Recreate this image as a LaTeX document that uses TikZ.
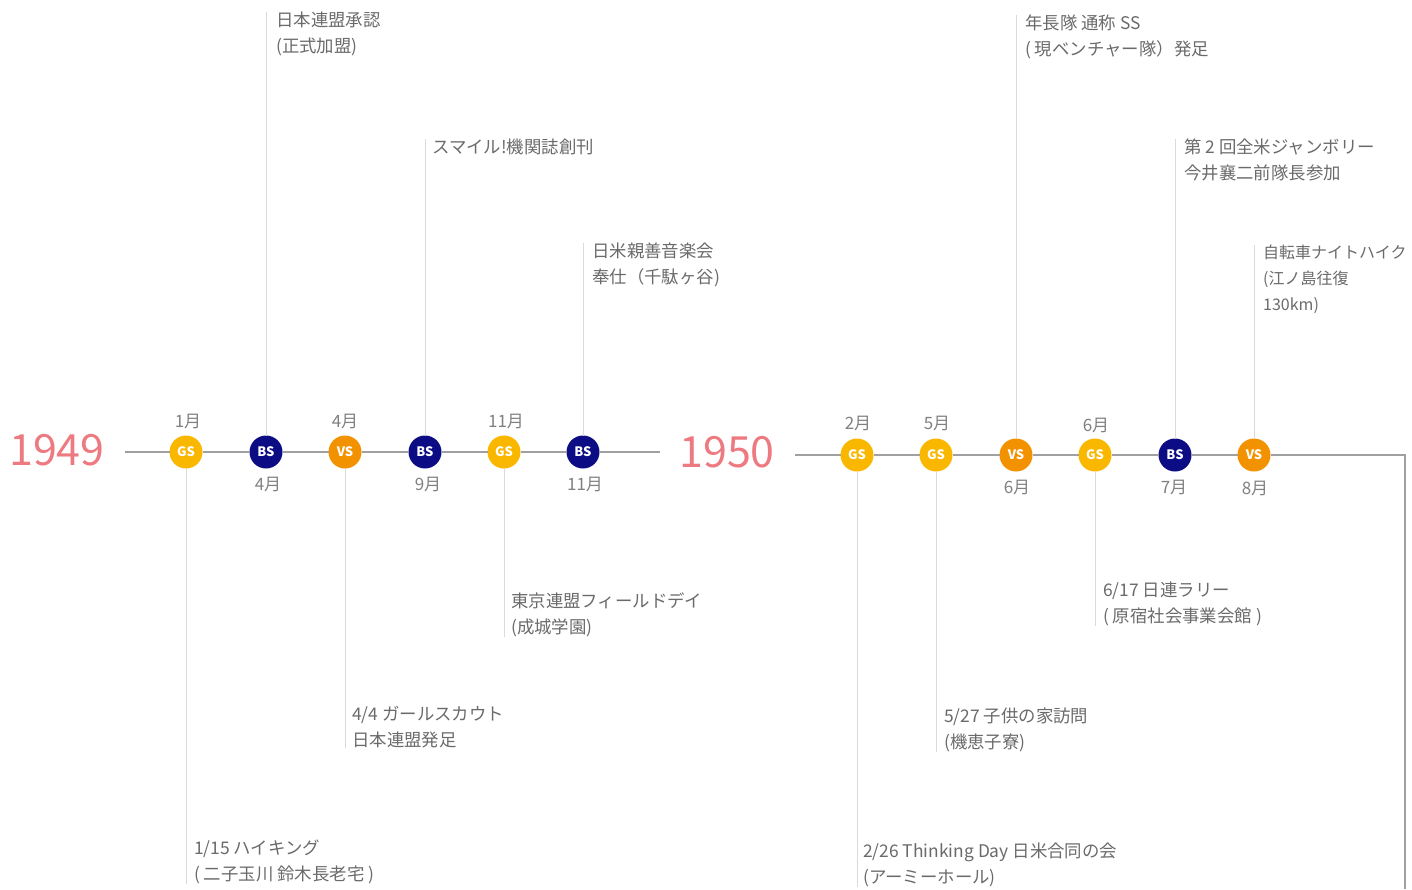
\documentclass[tikz,border=0pt]{standalone}
\usepackage{fontspec}
\setmainfont{Noto Sans CJK JP}
\usepackage{tikz}
\usetikzlibrary{positioning}

\definecolor{gscol}{HTML}{FAB700}
\definecolor{bscol}{HTML}{0C0C84}
\definecolor{vscol}{HTML}{F39200}
\definecolor{yearcol}{HTML}{EC7A80}
\definecolor{notecol}{HTML}{6A6A6A}
\definecolor{monthcol}{HTML}{808080}
\definecolor{axiscol}{HTML}{A0A0A0}
\definecolor{stemcol}{HTML}{DADADA}

\begin{document}
\begin{tikzpicture}[x=1pt,y=-1pt]
\tikzstyle{ev} = [circle, minimum size=33pt, inner sep=0pt, outer sep=0pt, text=white, font=\fontsize{13}{13}\selectfont\bfseries];%
\tikzstyle{gs} = [ev, fill=gscol];%
\tikzstyle{bs} = [ev, fill=bscol];%
\tikzstyle{vs} = [ev, fill=vscol];%
\tikzstyle{year} = [text=yearcol, inner sep=0pt, font=\fontsize{43}{43}\selectfont];%
\tikzstyle{month} = [text=monthcol, inner sep=0pt, font=\fontsize{17}{17}\selectfont];%
\tikzstyle{note} = [anchor=north west, align=left, inner sep=0pt, text=notecol, font=\fontsize{17.4}{26}\selectfont];%
\tikzstyle{axis} = [draw=axiscol, line width=1.4pt];%
\tikzstyle{stem} = [draw=stemcol, line width=0.9pt];%

\useasboundingbox (0,0) rectangle (1412,889);

% 1949
\node at (57,450) [year] (y49) {1949};
\coordinate (s49) at (125,452);
\coordinate (e49) at (660,452);
\node at (186,452) [gs] (a1) {GS};
\node at (266,452) [bs] (a2) {BS};
\node at (345,452) [vs] (a3) {VS};
\node at (425,452) [bs] (a4) {BS};
\node at (504,452) [gs] (a5) {GS};
\node at (583,452) [bs] (a6) {BS};

\node at (188,421) [month] (a1m) {1月};
\node at (268,484) [month] (a2m) {4月};
\node at (345,421) [month] (a3m) {4月};
\node at (428,484) [month] (a4m) {9月};
\node at (506,421) [month] (a5m) {11月};
\node at (585,484) [month] (a6m) {11月};

\node at (194,840) [note] (a1n) {1/15 ハイキング\\( 二子玉川 鈴木長老宅 )};
\node at (276,12) [note] (a2n) {日本連盟承認\\(正式加盟)};
\node at (352,706) [note] (a3n) {4/4 ガールスカウト\\日本連盟発足};
\node at (432,139) [note] (a4n) {スマイル!機関誌創刊};
\node at (511,592) [note] (a5n) {東京連盟フィールドデイ\\(成城学園)};
\node at (592,243) [note] (a6n) {日米親善音楽会\\奉仕（千駄ヶ谷)};

% 1950
\node at (727,452) [year] (y50) {1950};
\coordinate (s50) at (795,455);
\coordinate (c50) at (1405,455);
\coordinate (e50) at (1405,889);
\node at (857,455) [gs] (b1) {GS};
\node at (936,455) [gs] (b2) {GS};
\node at (1016,455) [vs] (b3) {VS};
\node at (1095,455) [gs] (b4) {GS};
\node at (1175,455) [bs] (b5) {BS};
\node at (1254,455) [vs] (b6) {VS};

\node at (858,423) [month] (b1m) {2月};
\node at (937,423) [month] (b2m) {5月};
\node at (1017,487) [month] (b3m) {6月};
\node at (1096,425) [month] (b4m) {6月};
\node at (1174,487) [month] (b5m) {7月};
\node at (1255,488) [month] (b6m) {8月};

\node at (863,843) [note] (b1n) {2/26 Thinking Day 日米合同の会\\(アーミーホール)};
\node at (944,708) [note] (b2n) {5/27 子供の家訪問\\(機恵子寮)};
\node at (1025,15) [note] (b3n) {年長隊 通称 SS\\( 現ベンチャー隊）発足};
\node at (1103,582) [note] (b4n) {6/17 日連ラリー\\( 原宿社会事業会館 )};
\node at (1184,139) [note] (b5n) {第 2 回全米ジャンボリー\\今井襄二前隊長参加};
\node at (1263,245) [note, font=\fontsize{16}{26}\selectfont] (b6n) {自転車ナイトハイク\\(江ノ島往復\\130km)};

% axes
\path (s49) edge[axis] (a1) (a1) edge[axis] (a2) (a2) edge[axis] (a3)
      (a3) edge[axis] (a4) (a4) edge[axis] (a5) (a5) edge[axis] (a6)
      (a6) edge[axis] (e49);
\path (s50) edge[axis] (b1) (b1) edge[axis] (b2) (b2) edge[axis] (b3)
      (b3) edge[axis] (b4) (b4) edge[axis] (b5) (b5) edge[axis] (b6);
\draw[axiscol, line width=1.2pt] (b6) -- (c50) -- (e50);

% stems
\path (a1) edge[stem] (a1 |- a1n.south) ;
\path (a2) edge[stem] (a2 |- a2n.north) ;
\path (a3) edge[stem] (a3 |- a3n.south) ;
\path (a4) edge[stem] (a4 |- a4n.north) ;
\path (a5) edge[stem] (a5 |- a5n.south) ;
\path (a6) edge[stem] (a6 |- a6n.north) ;
\path (b1) edge[stem] (b1 |- b1n.south) ;
\path (b2) edge[stem] (b2 |- b2n.south) ;
\path (b3) edge[stem] (b3 |- b3n.north) ;
\path (b4) edge[stem] (b4 |- b4n.south) ;
\path (b5) edge[stem] (b5 |- b5n.north) ;
\path (b6) edge[stem] (b6 |- b6n.north) ;

\end{tikzpicture}
\end{document}
